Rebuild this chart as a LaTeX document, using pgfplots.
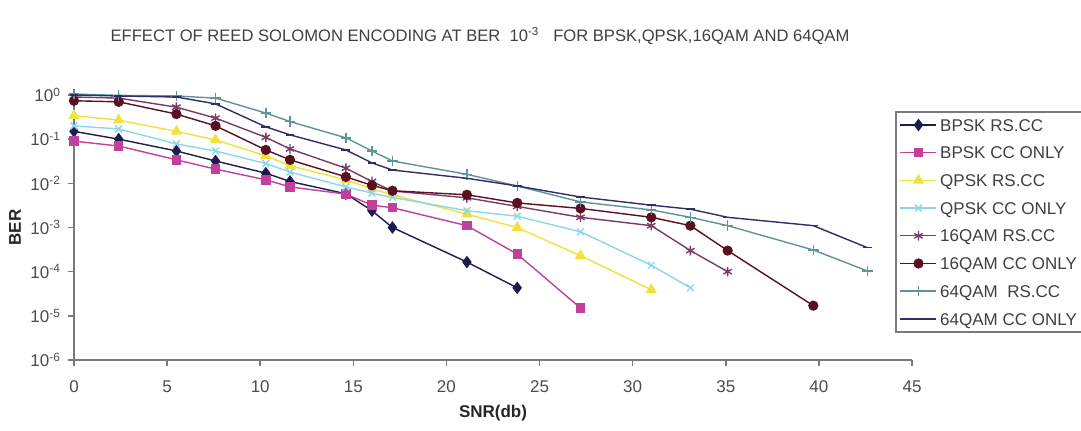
\documentclass[border=0pt]{standalone}
\usepackage{fontspec}
\setmainfont{Liberation Sans}
\usepackage{pgfplots}
\pgfplotsset{compat=1.18}
\usepackage{pgfplotstable}

\definecolor{cNavy}{HTML}{1C1C4E}
\definecolor{cMag}{HTML}{C0409C}
\definecolor{cYel}{HTML}{EEE23C}
\definecolor{cCyan}{HTML}{8CD6E8}
\definecolor{cPurp}{HTML}{7A3A68}
\definecolor{cDred}{HTML}{5A1020}
\definecolor{cTeal}{HTML}{5E9494}
\definecolor{cBlue}{HTML}{2E2E6A}
\definecolor{cAxis}{HTML}{7A7A7A}

\pgfplotstableread{
x y
0 0.15
2.4 0.10
5.5 0.054
7.6 0.032
10.3 0.017
11.6 0.011
14.6 0.0058
16.0 0.0024
17.1 0.0010
21.1 0.000165
23.8 0.000043
}\bpskrs
\pgfplotstableread{
x y
0 0.09
2.4 0.07
5.5 0.034
7.6 0.021
10.3 0.012
11.6 0.0083
14.6 0.0057
16.0 0.0032
17.1 0.0028
21.1 0.0011
23.8 0.00025
27.2 0.000015
}\bpskcc
\pgfplotstableread{
x y
0 0.34
2.4 0.27
5.5 0.15
7.6 0.096
10.3 0.042
11.6 0.025
14.6 0.012
16.0 0.0075
17.1 0.0055
21.1 0.0020
23.8 0.0010
27.2 0.00023
31.0 0.000039
}\qpskrs
\pgfplotstableread{
x y
0 0.20
2.4 0.17
5.5 0.078
7.6 0.054
10.3 0.028
11.6 0.018
14.6 0.0083
16.0 0.0060
17.1 0.0048
21.1 0.0024
23.8 0.0018
27.2 0.0008
31.0 0.00014
33.1 0.000043
}\qpskcc
\pgfplotstableread{
x y
0 0.90
2.4 0.85
5.5 0.53
7.6 0.30
10.3 0.11
11.6 0.06
14.6 0.022
16.0 0.011
17.1 0.0067
21.1 0.0047
23.8 0.0030
27.2 0.0017
31.0 0.0011
33.1 0.0003
35.1 0.0001
}\qamsrs
\pgfplotstableread{
x y
0 0.74
2.4 0.70
5.5 0.37
7.6 0.20
10.3 0.057
11.6 0.034
14.6 0.014
16.0 0.009
17.1 0.0068
21.1 0.0055
23.8 0.0036
27.2 0.0027
31.0 0.0017
33.1 0.0011
35.1 0.0003
39.7 0.000017
}\qamscc
\pgfplotstableread{
x y
0 1.05
2.4 0.98
5.5 0.95
7.6 0.85
10.3 0.39
11.6 0.25
14.6 0.107
16.0 0.054
17.1 0.032
21.1 0.016
23.8 0.0087
27.2 0.0038
31.0 0.0025
33.1 0.0017
35.1 0.0011
39.7 0.00031
42.6 0.000104
}\qamlrs
\pgfplotstableread{
x y
0 1.0
2.4 0.95
5.5 0.90
7.6 0.63
10.3 0.19
11.6 0.125
14.6 0.057
16.0 0.029
17.1 0.020
21.1 0.013
23.8 0.0087
27.2 0.0049
31.0 0.0032
33.1 0.0026
35.1 0.0017
39.7 0.0011
42.6 0.00035
}\qamlcc

\begin{document}
\begin{tikzpicture}[x=1pt,y=1pt]
\path[use as bounding box] (0,0) rectangle (540.5,215.5);
\node[font=\fontsize{8.3}{10}\selectfont, text=black!75] at (240,197.5)
  {EFFECT OF REED SOLOMON ENCODING AT BER\ \ 10\textsuperscript{-3}\ \ \ FOR BPSK,QPSK,16QAM AND 64QAM};
\begin{axis}[
  at={(37pt,35.5pt)}, anchor=south west,
  scale only axis, width=419pt, height=132.5pt,
  xmin=0, xmax=45, ymode=log, ymin=1e-6, ymax=1,
  clip=false,
  axis x line*=bottom, axis y line*=left,
  axis line style={draw=cAxis, line width=1pt, -},
  tick align=outside, major tick length=3pt,
  tick style={draw=cAxis, line width=0.8pt},
  yminorticks=false, xminorticks=false,
  xtick={0,5,10,15,20,25,30,35,40,45},
  ytick={1,0.1,0.01,0.001,0.0001,0.00001,0.000001},
  yticklabels={10\textsuperscript{0},10\textsuperscript{-1},10\textsuperscript{-2},10\textsuperscript{-3},10\textsuperscript{-4},10\textsuperscript{-5},10\textsuperscript{-6}},
  /pgf/number format/assume math mode=true,
  every tick label/.append style={font=\fontsize{8.5}{10}\selectfont, text=black!70},
  xticklabel style={yshift=-4pt},
  xlabel={\textbf{SNR(db)}},
  ylabel={\textbf{BER}},
  label style={font=\fontsize{8.5}{10}\selectfont, text=black!85},
  xlabel style={at={(axis description cs:0.5,-0.2)}, anchor=center},
  ylabel style={at={(axis description cs:-0.0704,0.5)}, anchor=center, rotate=0},
  legend cell align=left,
  legend image code/.code={\draw[mark repeat=2,mark phase=2,#1] plot coordinates {(0pt,0pt)(9pt,0pt)(18pt,0pt)};},
  legend style={at={(0.9797,0.9396)}, anchor=north west, draw=cAxis, line width=0.8pt,
    font=\fontsize{8.5}{10}\selectfont, text=black!75, inner sep=2pt, row sep=4.65pt,
    nodes={inner sep=1.5pt, text height=6.2pt, text depth=0pt}},
  every axis plot/.append style={line width=0.7pt},
]
\addplot[cNavy, mark=diamond*, mark size=2.6pt] table {\bpskrs};
\addlegendentry{BPSK RS.CC}
\addplot[cMag, mark=square*, mark size=2pt] table {\bpskcc};
\addlegendentry{BPSK CC ONLY}
\addplot[cYel, mark=triangle*, mark size=2.6pt] table {\qpskrs};
\addlegendentry{QPSK RS.CC}
\addplot[cCyan, mark=x, mark size=2.4pt] table {\qpskcc};
\addlegendentry{QPSK CC ONLY}
\addplot[cPurp, mark=asterisk, mark size=2.4pt] table {\qamsrs};
\addlegendentry{16QAM RS.CC}
\addplot[cDred, mark=*, mark size=2.2pt] table {\qamscc};
\addlegendentry{16QAM CC ONLY}
\addplot[cTeal, mark=+, mark size=2.6pt] table {\qamlrs};
\addlegendentry{64QAM\ \ RS.CC}
\addplot[cBlue, mark=-, mark size=2.2pt] table {\qamlcc};
\addlegendentry{64QAM CC ONLY}
\end{axis}
\end{tikzpicture}
\end{document}
